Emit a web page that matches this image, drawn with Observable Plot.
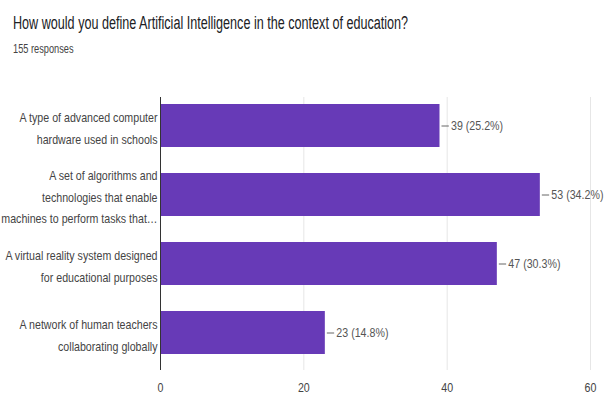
<!DOCTYPE html>
<html>
<head>
<meta charset="utf-8">
<script src="https://cdn.jsdelivr.net/npm/d3@7"></script>
<script src="https://cdn.jsdelivr.net/npm/@observablehq/plot@0.6"></script>
<style>
  body { margin: 0; background: #fff; font-family: "Liberation Sans", Arial, sans-serif; }
  #title { position: absolute; left: 13px; top: 13px; font-size: 18px; color: #202124; white-space: nowrap; transform-origin: left top; transform: scaleX(0.70); }
  #subtitle { position: absolute; left: 13px; top: 41px; font-size: 13px; color: #444; white-space: nowrap; transform-origin: left top; transform: scaleX(0.71); }
  #chart { position: absolute; left: 0; top: 60px; }
</style>
</head>
<body>
<div id="title">How would you define Artificial Intelligence in the context of education?</div>
<div id="subtitle">155 responses</div>
<div id="chart"></div>
<script>
const categories = [
  "A type of advanced computer\nhardware used in schools",
  "A set of algorithms and\ntechnologies that enable\nmachines to perform tasks that…",
  "A virtual reality system designed\nfor educational purposes",
  "A network of human teachers\ncollaborating globally"
];
const counts = [39, 53, 47, 23];
const percents = ["25.2%", "34.2%", "30.3%", "14.8%"];
const xTicks = [0, 20, 40, 60];

const data = categories.map((c, i) => ({cat: c, value: counts[i], label: `${counts[i]} (${percents[i]})`}));

const plot = Plot.plot({
  width: 613,
  height: 335,
  marginLeft: 160,
  marginRight: 23,
  marginTop: 30,
  marginBottom: 27,
  style: {fontFamily: "'Liberation Sans', Arial, sans-serif", fontSize: "13px", color: "#444"},
  x: {domain: [0, 60], ticks: xTicks, label: null, tickSize: 0, tickPadding: 14},
  y: {domain: categories, label: null, paddingInner: 0.38, paddingOuter: 0.19, axis: null},
  marks: [
    Plot.ruleX(xTicks.slice(1), {stroke: "#e6e6e6", strokeWidth: 1, strokeOpacity: 1, insetTop: 7, insetBottom: -2}),
    Plot.barX(data, {y: "cat", x: "value", fill: "#673ab7"}),
    Plot.ruleX([0], {stroke: "#333", strokeWidth: 1, insetTop: 7, insetBottom: -2}),
    Plot.axisY({tickSize: 0, tickPadding: 3, fontSize: 13, lineHeight: 1.65, textAnchor: "end", fill: "#444"}),
    Plot.ruleY(data, {y: "cat", x1: "value", x2: d => d.value + 1.3, insetLeft: 2, stroke: "#666", strokeWidth: 1}),
    Plot.text(data, {y: "cat", x: "value", text: "label", dx: 11, textAnchor: "start", fill: "#555", fontSize: 13})
  ]
});
plot.querySelectorAll("text").forEach(t => {
  const tr = t.getAttribute("transform") || "";
  t.setAttribute("transform", (tr + " scale(0.82,1)").trim());
});
document.getElementById("chart").appendChild(plot);
</script>
</body>
</html>
